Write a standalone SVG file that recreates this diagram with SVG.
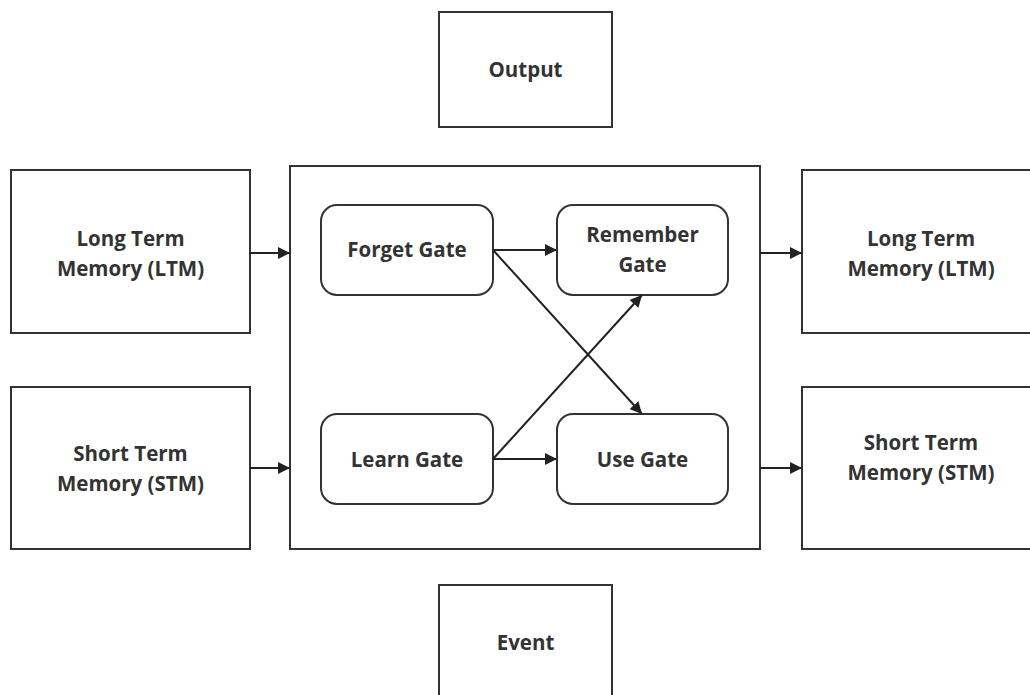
<svg xmlns="http://www.w3.org/2000/svg" width="1030" height="695" viewBox="0 0 1030 695">
<defs>
<style>
.box{fill:#fff;stroke:#333;stroke-width:2}
.t{font-family:"Open Sans","Liberation Sans",sans-serif;font-weight:bold;font-size:20.5px;fill:#333;text-anchor:middle}
.c{stroke:#222;stroke-width:2;fill:none;marker-end:url(#ah)}
</style>
<marker id="ah" viewBox="0 0 10 10" refX="10" refY="5" markerWidth="6" markerHeight="6" orient="auto" markerUnits="strokeWidth">
<path d="M0,0 L10,5 L0,10 z" fill="#222"/>
</marker>
</defs>
<rect width="1030" height="695" fill="#fff"/>
<g id="output"><rect class="box" x="439" y="12" width="173" height="115"/><text class="t" x="525.5" y="77">Output</text></g>
<g id="event"><rect class="box" x="439" y="585" width="173" height="120"/><text class="t" x="525.5" y="650">Event</text></g>
<g id="ltm-in"><rect class="box" x="11" y="170" width="239" height="163"/><text class="t" x="130.5" y="246">Long Term</text><text class="t" x="130.5" y="276">Memory (LTM)</text></g>
<g id="stm-in"><rect class="box" x="11" y="387" width="239" height="162"/><text class="t" x="130.5" y="461">Short Term</text><text class="t" x="130.5" y="491">Memory (STM)</text></g>
<g id="ltm-out"><rect class="box" x="802" y="170" width="239" height="163"/><text class="t" x="921" y="246">Long Term</text><text class="t" x="921" y="276">Memory (LTM)</text></g>
<g id="stm-out"><rect class="box" x="802" y="387" width="239" height="162"/><text class="t" x="921" y="450">Short Term</text><text class="t" x="921" y="480">Memory (STM)</text></g>
<g id="cell"><rect class="box" x="290" y="166" width="470" height="383"/></g>
<g id="forget"><rect class="box" x="321" y="205" width="172" height="90" rx="16"/><text class="t" x="407" y="257">Forget Gate</text></g>
<g id="remember"><rect class="box" x="557" y="205" width="171" height="90" rx="16"/><text class="t" x="642.5" y="242">Remember</text><text class="t" x="642.5" y="272">Gate</text></g>
<g id="learn"><rect class="box" x="321" y="414" width="172" height="90" rx="16"/><text class="t" x="407" y="467">Learn Gate</text></g>
<g id="use"><rect class="box" x="557" y="414" width="171" height="90" rx="16"/><text class="t" x="642.5" y="467">Use Gate</text></g>
<g id="connectors">
<line class="c" x1="250" y1="253" x2="290" y2="253"/>
<line class="c" x1="250" y1="468" x2="290" y2="468"/>
<line class="c" x1="760" y1="253" x2="802" y2="253"/>
<line class="c" x1="760" y1="468" x2="802" y2="468"/>
<line class="c" x1="493" y1="250" x2="557" y2="250"/>
<line class="c" x1="493" y1="459" x2="557" y2="459"/>
<line class="c" x1="493" y1="250" x2="642" y2="414"/>
<line class="c" x1="493" y1="459" x2="642" y2="295"/>
</g>
</svg>
